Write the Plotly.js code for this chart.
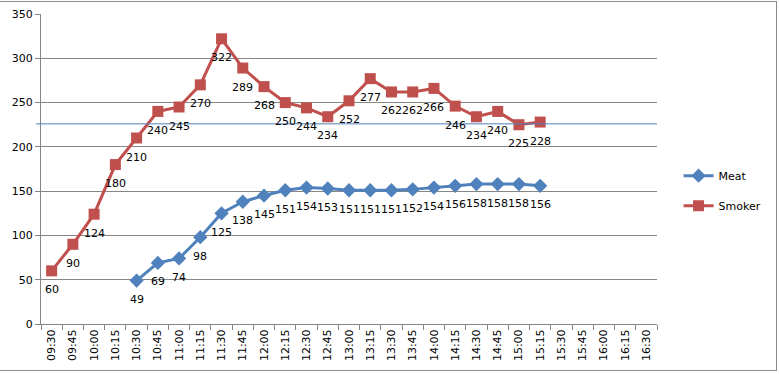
<!DOCTYPE html>
<html>
<head>
<meta charset="utf-8">
<script src="https://cdn.plot.ly/plotly-3.0.1.min.js"></script>
<style>
html,body{margin:0;padding:0;background:#fff;}
#wrap{position:relative;width:779px;height:374px;}
#chart{width:779px;height:374px;}
#frame{position:absolute;left:-2px;top:1px;width:779px;height:370px;border-top:1px solid #8c8c8c;border-right:1px solid #8c8c8c;border-bottom:1px solid #8c8c8c;pointer-events:none;box-sizing:border-box;}
</style>
</head>
<body>
<div id="wrap"><div id="chart"></div><div id="frame"></div></div>
<script>
const times = ["09:30","09:45","10:00","10:15","10:30","10:45","11:00","11:15","11:30","11:45","12:00","12:15","12:30","12:45","13:00","13:15","13:30","13:45","14:00","14:15","14:30","14:45","15:00","15:15","15:30","15:45","16:00","16:15","16:30"];
const meatTimes = ["10:30","10:45","11:00","11:15","11:30","11:45","12:00","12:15","12:30","12:45","13:00","13:15","13:30","13:45","14:00","14:15","14:30","14:45","15:00","15:15"];
const meat = [49,69,74,98,125,138,145,151,154,153,151,151,151,152,154,156,158,158,158,156];
const smokerTimes = ["09:30","09:45","10:00","10:15","10:30","10:45","11:00","11:15","11:30","11:45","12:00","12:15","12:30","12:45","13:00","13:15","13:30","13:45","14:00","14:15","14:30","14:45","15:00","15:15"];
const smoker = [60,90,124,180,210,240,245,270,322,289,268,250,244,234,252,277,262,262,266,246,234,240,225,228];
const refLevel = 226;

const font = {family: "DejaVu Sans, sans-serif", size: 11, color: "#000"};
const traces = [
  {x: meatTimes, y: meat, name: "Meat", type: "scatter", mode: "lines+markers", legendgroup: "a",
   line: {color: "#4F81BD", width: 3}, marker: {symbol: "diamond", size: 11, color: "#4F81BD"}},
  {x: smokerTimes, y: smoker, name: "Smoker", type: "scatter", mode: "lines+markers", legendgroup: "b",
   line: {color: "#C0504D", width: 3}, marker: {symbol: "square", size: 11, color: "#C0504D"}}
];
function labels(xs, ys) {
  return ys.map((v, i) => ({x: xs[i], y: v, xref: "x", yref: "y", text: String(v), showarrow: false,
    yshift: -19, xshift: 0, font: font}));
}
const layout = {
  width: 779, height: 374,
  margin: {l: 41, r: 106, t: 14, b: 50},
  paper_bgcolor: "#fff", plot_bgcolor: "#fff",
  font: font,
  showlegend: true,
  legend: {x: 1.035, xanchor: "left", y: 0.43, yanchor: "middle", font: font, itemwidth: 30,
           traceorder: "grouped", tracegroupgap: 11, bgcolor: "rgba(0,0,0,0)"},
  xaxis: {type: "category", categoryorder: "array", categoryarray: times, range: [-0.5, times.length - 0.5],
          tickson: "boundaries", ticks: "outside", ticklen: 5, tickcolor: "#868686",
          showline: true, linecolor: "#868686", linewidth: 1, showgrid: false, zeroline: false,
          tickangle: -90, tickfont: font, fixedrange: true},
  yaxis: {range: [0, 350], dtick: 50, ticks: "outside", ticklen: 5, tickcolor: "#868686",
          showline: true, linecolor: "#868686", showgrid: true, gridcolor: "#868686", gridwidth: 1,
          zeroline: false, tickfont: font, fixedrange: true},
  annotations: labels(meatTimes, meat).concat(labels(smokerTimes, smoker)),
  shapes: [{type: "line", xref: "paper", yref: "y", x0: -0.008, x1: 1, y0: refLevel, y1: refLevel,
            line: {color: "#4F81BD", width: 1}}]
};
Plotly.newPlot("chart", traces, layout, {displayModeBar: false, staticPlot: true});
</script>
</body>
</html>
